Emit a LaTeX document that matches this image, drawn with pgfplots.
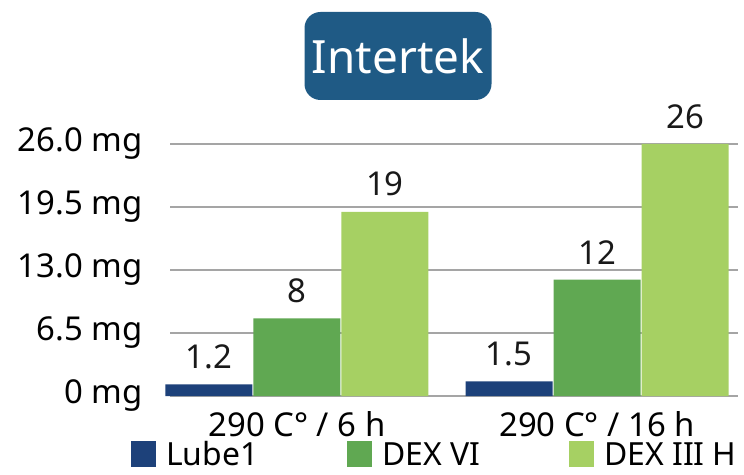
\documentclass[border=0pt]{standalone}
\usepackage{fontspec}
\setmainfont{Noto Sans}
\usepackage{pgfplots}
\pgfplotsset{compat=1.18}

\definecolor{lubeblue}{RGB}{29,65,122}
\definecolor{dexsix}{RGB}{96,168,82}
\definecolor{dexthree}{RGB}{166,208,99}
\definecolor{logoblue}{RGB}{31,90,133}
\definecolor{gridgray}{RGB}{165,165,165}

\newcommand{\bigfont}{\fontsize{33}{39}\selectfont}
\newcommand{\legfont}{\fontsize{32}{38}\selectfont}

\begin{document}
\begin{tikzpicture}
  \useasboundingbox (0,0) rectangle (744bp,475bp);

  % logo
  \node[fill=logoblue, rounded corners=16bp, minimum width=187bp,
        minimum height=88bp, text=white, font=\fontsize{46}{50}\selectfont]
        at (398bp,419bp) {Intertek};

  \begin{axis}[
      at={(170bp,79bp)}, anchor=south west,
      scale only axis,
      width=568bp, height=252bp,
      ybar=1bp, bar width=87bp,
      xmin=-0.4233, xmax=1.47,
      ymin=0, ymax=26,
      axis line style={draw=none},
      tick style={draw=none},
      clip=false,
      xtick={0,1},
      xticklabels={290 C° / 6 h, 290 C° / 16 h},
      ytick={0,6.5,13,19.5,26},
      yticklabels={0 mg, 6.5 mg, 13.0 mg, 19.5 mg, 26.0 mg},
      major tick length=0pt,
      ymajorgrids,
      grid style={gridgray, line width=2bp},
      tick label style={font=\bigfont, text=black},
      yticklabel style={xshift=-24bp},
      xticklabel style={yshift=-12bp},
      /pgf/number format/assume math mode=true,
      nodes near coords,
      nodes near coords style={font=\bigfont, text=black!90, yshift=12bp},
      legend columns=3,
      legend style={at={(-0.074,-0.232)}, anchor=west, draw=none, fill=none,
        font=\legfont,
        /tikz/every odd column/.append style={column sep=8bp},
        /tikz/every even column/.append style={column sep=87bp}},
      legend image code/.code={\fill[#1,draw=none] (0bp,-13bp) rectangle (25bp,13bp);},
    ]
    \addplot[fill=lubeblue, draw=none] coordinates {(0,1.2) (1,1.5)};
    \addplot[fill=dexsix, draw=none] coordinates {(0,8) (1,12)};
    \addplot[fill=dexthree, draw=none] coordinates {(0,19) (1,26)};
    \legend{Lube1, DEX VI, DEX III H}
  \end{axis}
\end{tikzpicture}
\end{document}
